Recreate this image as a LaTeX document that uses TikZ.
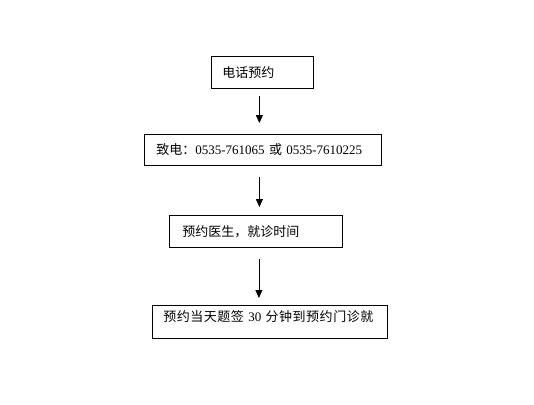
\documentclass[tikz,border=0pt]{standalone}
\usepackage{fontspec}
\setmainfont{Liberation Serif}
\newfontfamily\cjk{Noto Sans CJK SC}
\usetikzlibrary{arrows.meta}
\begin{document}
\begin{tikzpicture}[
    x=1pt, y=-1pt,
    box/.style={rectangle, draw, line width=0.8pt, anchor=north west, inner sep=0pt, align=left, font=\fontsize{13}{15}\selectfont},
    arr/.style={draw, line width=0.8pt, -{Triangle[length=8pt, width=7pt]}}
]
\useasboundingbox (0,0) rectangle (534,404);
\node[box, text width=102pt, minimum height=32pt] (call) at (211,56) {\hspace*{11pt}{\cjk 电话预约}};
\node[box, text width=237pt, minimum height=31pt] (phone) at (144,134) {\hspace*{12pt}{\cjk 致电：}0535-761065 {\cjk 或} 0535-7610225};
\node[box, text width=173pt, minimum height=32pt] (doctor) at (169,215) {\hspace*{13pt}{\cjk 预约医生，就诊时间}};
\node[box, text width=235pt, minimum height=33pt, text depth=11pt] (arrive) at (152,305) {\hspace*{11pt}{\cjk\addfontfeature{LetterSpace=4} 预约当天题签}\ 30\ {\cjk\addfontfeature{LetterSpace=4} 分钟到预约门诊就}};
\draw[arr, shorten <=7pt, shorten >=11pt] ([xshift=-3pt]call.south) -- ([xshift=-3.5pt]phone.north);
\draw[arr, shorten <=11pt, shorten >=8pt] ([xshift=-3.5pt]phone.south) -- ([xshift=3.5pt]doctor.north);
\draw[arr, shorten <=11pt, shorten >=7pt] ([xshift=3pt]doctor.south) -- ([xshift=-11pt]arrive.north);
\end{tikzpicture}
\end{document}
